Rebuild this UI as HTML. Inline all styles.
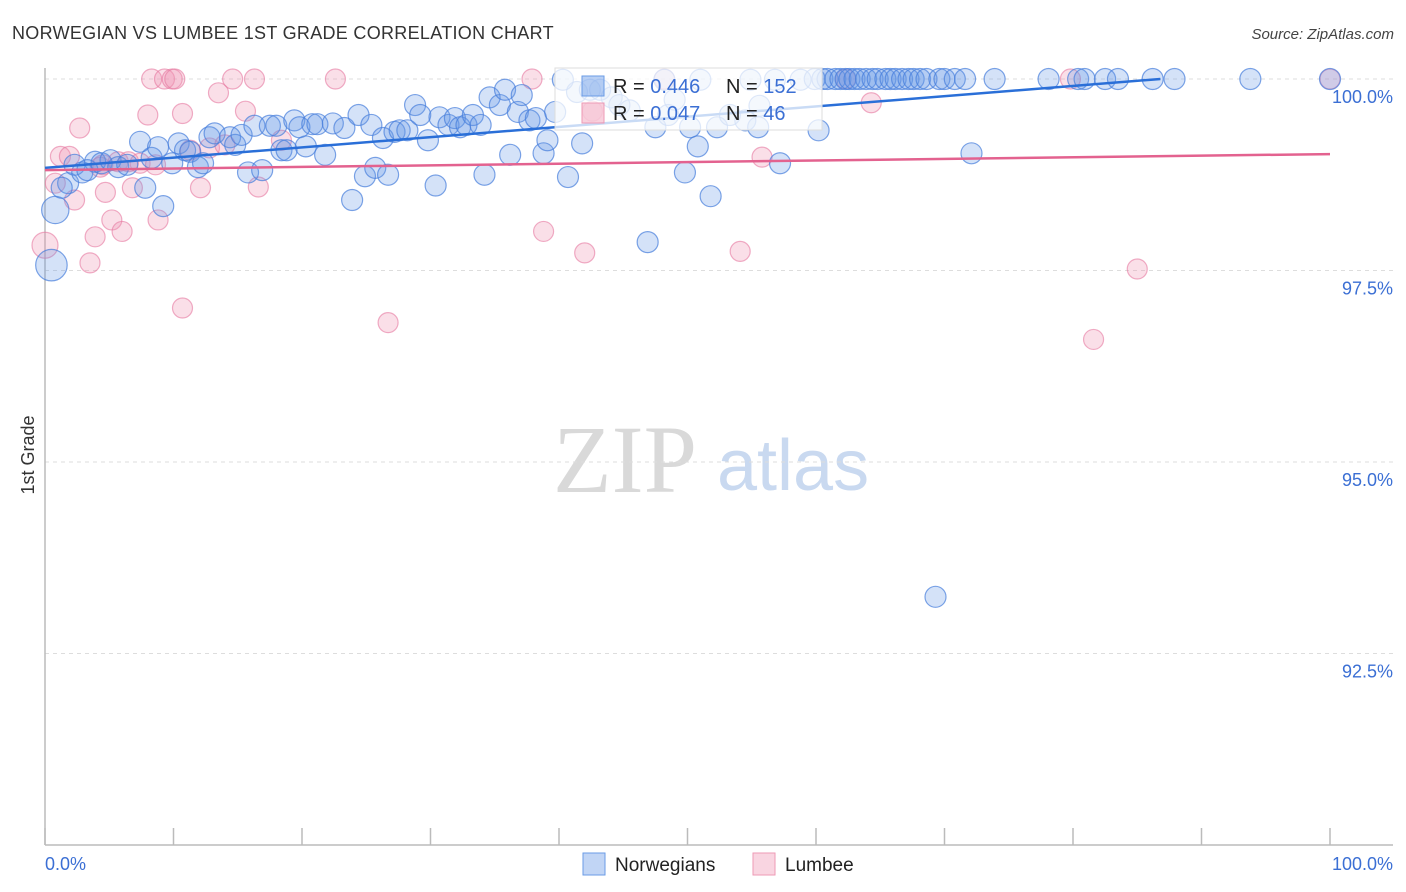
<!DOCTYPE html>
<html><head><meta charset="utf-8"><style>
body{margin:0;background:#fff;font-family:"Liberation Sans",sans-serif;}
svg{display:block}
</style></head><body>
<svg id="chart" width="1406" height="892" xmlns="http://www.w3.org/2000/svg">
<text x="12" y="39" font-size="18" fill="#333" letter-spacing="0.3">NORWEGIAN VS LUMBEE 1ST GRADE CORRELATION CHART</text>
<text x="1394" y="39" font-size="15" fill="#444" font-style="italic" text-anchor="end">Source: ZipAtlas.com</text>
<g>
<text x="553" y="492" font-family="Liberation Serif,serif" font-size="96" fill="#d9d9d9">ZIP</text>
<text x="717" y="490" font-size="72" fill="#c9d9f0">atlas</text>
</g>
<g id="grid"></g>
<g id="axes"></g>
<g id="marks"></g>
<g id="lines"></g>
<text x="34" y="455" font-size="18" fill="#333" text-anchor="middle" transform="rotate(-90 34 455)">1st Grade</text>
<text x="45" y="870" font-size="18" fill="#3b6fd4">0.0%</text>
<text x="1393" y="870" font-size="18" fill="#3b6fd4" text-anchor="end">100.0%</text>
<g>
<rect x="555" y="68" width="267" height="62" fill="rgba(255,255,255,0.75)" stroke="#ddd"/>
<rect x="582" y="76" width="22" height="20" fill="rgba(100,150,230,0.45)" stroke="#6a9be6"/>
<rect x="582" y="103" width="22" height="20" fill="rgba(240,150,180,0.45)" stroke="#ee9ab5"/>
<text x="613" y="93" font-size="20" fill="#222">R = <tspan fill="#3b6fd4">0.446</tspan></text>
<text x="726" y="93" font-size="20" fill="#222">N = <tspan fill="#3b6fd4">152</tspan></text>
<text x="613" y="120" font-size="20" fill="#222">R = <tspan fill="#3b6fd4">0.047</tspan></text>
<text x="726" y="120" font-size="20" fill="#222">N = <tspan fill="#3b6fd4"> 46</tspan></text>
</g>
<g>
<rect x="583" y="853" width="22" height="22" fill="rgba(100,150,230,0.4)" stroke="#6a9be6"/>
<text x="615" y="871" font-size="19" fill="#222">Norwegians</text>
<rect x="753" y="853" width="22" height="22" fill="rgba(240,150,180,0.4)" stroke="#ee9ab5"/>
<text x="785" y="871" font-size="19" fill="#222">Lumbee</text>
</g>
</svg>
<script>
const yTicks=[100,97.5,95,92.5];
const yTickLabels=["100.0%","97.5%","95.0%","92.5%"];
const xTicks=[0,10,20,30,40,50,60,70,80,90,100];
const blueX=[0.8,0.5,1.8,1.3,2.3,2.9,3.9,3.3,4.4,5.1,5.7,6.4,7.4,7.8,8.3,8.8,9.2,9.9,10.4,10.9,11.3,11.9,12.3,12.8,13.2,14.4,14.8,15.3,15.8,16.3,16.9,17.5,18.0,18.4,18.8,19.4,19.8,20.3,20.8,21.2,21.8,22.4,23.3,23.9,24.4,24.9,25.4,25.7,26.3,26.7,27.2,27.6,28.2,28.8,29.2,29.8,30.4,30.7,31.4,31.9,32.3,32.8,33.3,33.9,34.2,34.6,35.4,35.8,36.2,36.8,37.1,37.7,38.2,38.8,39.1,39.7,40.7,41.4,41.8,42.4,43.2,44.1,44.7,45.5,46.9,47.5,48.5,49.0,49.8,50.2,50.8,51.8,52.3,53.3,54.5,55.5,55.6,57.2,58.8,60.2,59.9,60.5,60.9,61.5,61.9,62.3,62.6,63.0,63.4,63.9,64.4,64.8,65.4,65.8,66.2,66.7,67.2,67.6,68.1,68.6,69.6,70.0,70.8,71.6,73.9,78.1,80.4,80.9,82.5,83.5,86.2,87.9,93.8,100,72.1,69.3,40.3,48.2,51.0,54.9,56.8];
const blueY=[98.29,97.57,98.64,98.58,98.88,98.78,98.92,98.81,98.90,98.94,98.85,98.88,99.18,98.58,98.97,99.11,98.34,98.90,99.16,99.07,99.05,98.85,98.90,99.24,99.29,99.24,99.14,99.27,98.78,99.39,98.81,99.39,99.39,99.07,99.07,99.46,99.37,99.12,99.41,99.41,99.01,99.42,99.36,98.42,99.53,98.73,99.40,98.84,99.23,98.75,99.31,99.33,99.33,99.66,99.53,99.20,98.61,99.50,99.40,99.49,99.37,99.40,99.53,99.40,98.75,99.76,99.66,99.86,99.01,99.57,99.79,99.46,99.49,99.03,99.20,99.57,98.72,99.83,99.16,99.86,99.86,99.76,99.66,99.59,97.87,99.37,99.53,99.73,98.78,99.37,99.12,98.47,99.37,99.53,99.46,99.37,99.65,98.90,99.99,99.33,100,100,100,100,100,100,100,100,100,100,100,100,100,100,100,100,100,100,100,100,100,100,100,100,100,100,100,100,100,100,100,100,100,100,99.03,93.24,99.99,99.99,99.99,99.99,99.99];
const blueSize=[1.3,1.5];
const pinkX=[0,0.8,1.2,1.9,2.3,2.7,3.5,3.9,4.5,4.7,5.2,5.7,6.0,6.5,6.8,7.4,8.0,8.3,8.8,9.3,9.9,10.1,10.7,10.7,11.3,12.1,12.8,13.5,14.0,14.6,15.6,16.3,16.6,18.4,22.6,26.7,37.9,38.8,42.0,42.6,48.2,54.1,55.8,62.3,64.3,79.8,81.6,85.0,100,8.6,4.3];
const pinkY=[97.83,98.64,98.99,98.99,98.42,99.36,97.60,97.94,98.88,98.52,98.16,98.92,98.01,98.92,98.58,98.90,99.53,100,98.16,100,100,100,99.55,97.01,99.07,98.58,99.10,99.82,99.14,100,99.58,100,98.59,99.20,100,96.82,100,98.01,97.73,99.58,100,97.75,98.98,100,99.69,100,96.60,97.52,100,98.88,98.85];
const blueTrend=[[0,98.84],[86.8,100]];
const pinkTrend=[[0,98.81],[100,99.02]];

const X0=45,X1=1330,YT=79,YB=845,VMIN=90,VMAX=100;
const sx=v=>X0+(v/100)*(X1-X0);
const sy=v=>YT+(VMAX-v)/(VMAX-VMIN)*(YB-YT);
const NS="http://www.w3.org/2000/svg";
function mk(tag,attrs,parent){const e=document.createElementNS(NS,tag);for(const k in attrs)e.setAttribute(k,attrs[k]);parent.appendChild(e);return e;}
const grid=document.getElementById('grid'),axes=document.getElementById('axes'),marks=document.getElementById('marks'),lines=document.getElementById('lines');
yTicks.forEach((t,i)=>{
 const g=mk('line',{x1:45,x2:1393,y1:sy(t),y2:sy(t),stroke:'#ddd','stroke-dasharray':'4,4'},grid);
 
 
 const l=mk('text',{x:1393,y:sy(t)+24,'font-size':18,fill:'#3b6fd4','text-anchor':'end'},grid);
 l.textContent=yTickLabels[i];
 
 
});
const ya=mk('line',{x1:45,x2:45,y1:68,y2:845,stroke:'#bbb','stroke-width':1.5},axes);


const xa=mk('line',{x1:45,x2:1393,y1:845,y2:845,stroke:'#bbb','stroke-width':1.5},axes);


xTicks.forEach(t=>{
 const k=mk('line',{x1:sx(t),x2:sx(t),y1:828,y2:845,stroke:'#bbb','stroke-width':1.5},axes);
 
 
});
pinkX.forEach((x,i)=>{
 const c=mk('circle',{cx:sx(x),cy:sy(pinkY[i]),r:i===0?13:10,fill:'rgba(240,150,180,0.3)',stroke:'rgba(230,120,160,0.6)','stroke-width':1.2},marks);
 
 
});
blueX.forEach((x,i)=>{
 const r=10.5*(blueSize[i]||1);
 const c=mk('circle',{cx:sx(x),cy:sy(blueY[i]),r:r,fill:'rgba(100,150,230,0.28)',stroke:'rgba(70,125,220,0.7)','stroke-width':1.2},marks);
 
 
});
const bl=mk('line',{x1:sx(blueTrend[0][0]),y1:sy(blueTrend[0][1]),x2:sx(blueTrend[1][0]),y2:sy(blueTrend[1][1]),stroke:'#2a6fd8','stroke-width':2.5},lines);


const pl=mk('line',{x1:sx(pinkTrend[0][0]),y1:sy(pinkTrend[0][1]),x2:sx(pinkTrend[1][0]),y2:sy(pinkTrend[1][1]),stroke:'#e3628f','stroke-width':2.5},lines);


</script>
</body></html>
